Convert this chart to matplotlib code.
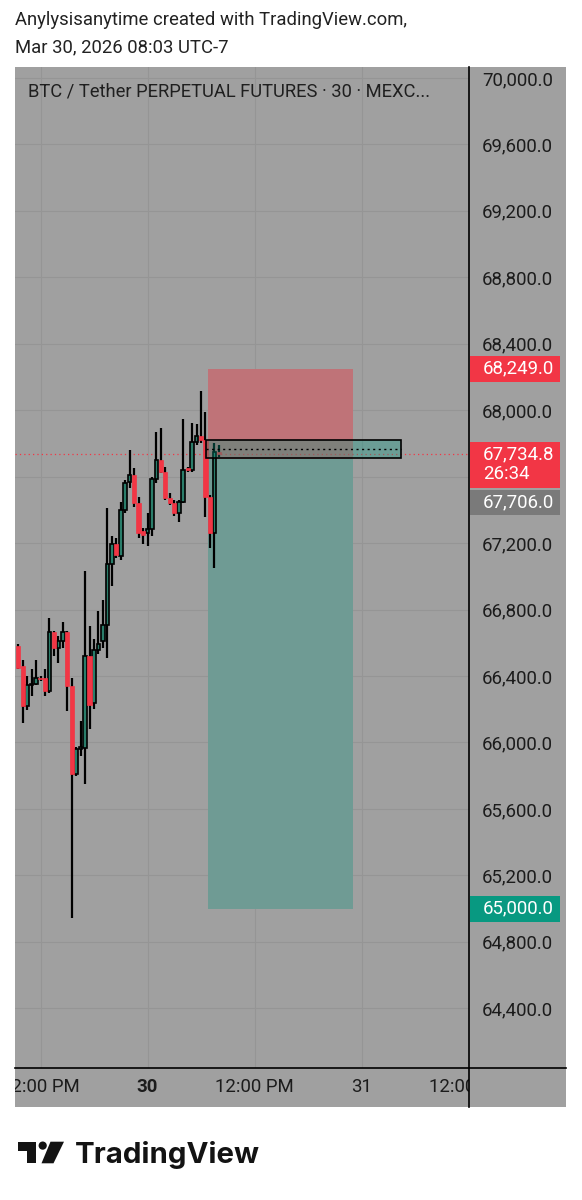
import numpy as np
import matplotlib
matplotlib.use("Agg")
import matplotlib.pyplot as plt
from matplotlib.patches import Rectangle, Polygon, Circle
from matplotlib.lines import Line2D
from matplotlib.transforms import Affine2D, blended_transform_factory

plt.rcParams['font.family'] = ['Roboto', 'DejaVu Sans']

# 30 min candles, time in hours relative to Mar 30 00:00
times = np.arange(-29, 17) * 0.5
opens = [66580, 66459, 66218, 66345, 66353, 66390, 66389, 66308, 66664, 66566,
         66610, 66664, 66339, 65807, 65963, 65967, 66523, 66238, 66554, 66610,
         66704, 67075, 67195, 67121, 67402, 67567, 67607, 67442, 67270, 67261,
         67285, 67583, 67703, 67630, 67472, 67442, 67382, 67450, 67649, 67637,
         67807, 67843, 67823, 67477, 67261, 67749]
highs = [66595, 66499, 66399, 66439, 66499, 66398, 66444, 66750, 66672, 66640,
         66724, 66672, 66389, 65970, 66127, 67031, 66700, 66620, 66790, 66860,
         67412, 67243, 67230, 67450, 67580, 67763, 67650, 67480, 67290, 67382,
         67600, 67868, 67894, 67660, 67500, 67460, 67460, 67944, 67660, 67924,
         67914, 68114, 67990, 67490, 67800, 67790]
lows = [66440, 66118, 66198, 66278, 66345, 66372, 66278, 66300, 66520, 66479,
        66566, 66188, 64944, 65800, 65916, 65750, 66078, 66200, 66530, 66566,
        66509, 66940, 67110, 67100, 67380, 67530, 67420, 67230, 67192, 67180,
        67240, 67560, 67620, 67460, 67430, 67362, 67329, 67440, 67625, 67630,
        67790, 67800, 67360, 67171, 67047, 67720]
closes = [66449, 66218, 66345, 66353, 66389, 66380, 66308, 66664, 66566, 66610,
          66664, 66339, 65807, 65963, 65975, 66523, 66228, 66554, 66594, 66704,
          67075, 67195, 67131, 67402, 67562, 67607, 67442, 67261, 67250, 67285,
          67583, 67703, 67630, 67472, 67442, 67382, 67450, 67637, 67637, 67807,
          67843, 67820, 67477, 67261, 67749, 67735]

price_ticks = np.arange(64400, 70001, 400)
hidden_tick = 67600
time_ticks = [-12, 0, 12, 24, 36]
time_labels = ["12:00 PM", "30", "12:00 PM", "31", "12:00 PM"]

last_price = 67734.8
countdown = "26:34"
entry_price = 67706.0
stop_price = 68249.0
target_price = 65000.0
zone_top, zone_mid, zone_bottom = 67823, 67769, 67713
pos_start, pos_end = 6.75, 23.0
zone_start, zone_end = 6.56, 28.4

W, H = 582, 1200
BG = '#a0a0a0'
GRID = '#959595'
RED = '#f23645'
GREEN_BODY = '#2a7d6a'
TAG_GREEN = '#089981'
TAG_GRAY = '#7a7a7a'
TXT = '#1c1c1c'
FS = 13.4


def fx(x):
    return x / W


def fy(y):
    return 1 - y / H


fig = plt.figure(figsize=(W / 100, H / 100), dpi=100)
fig.patch.set_facecolor('white')
px = Affine2D().scale(1 / W, -1 / H).translate(0, 1) + fig.transFigure

# chart panel background
fig.add_artist(Rectangle((15, 67), 551, 1040, transform=px, facecolor=BG, edgecolor='none', zorder=0))

ax = fig.add_axes([fx(15), fy(1068), (469 - 15) / W, (1068 - 67) / H])
ax.set_facecolor(BG)
for s in ax.spines.values():
    s.set_visible(False)
ax.set_xlim(-14.86, 36.05)
ax.set_ylim(64040, 70066)

ax.set_xticks(time_ticks)
ax.set_yticks(price_ticks)
ax.set_yticklabels(["" if v == hidden_tick else f"{v:,.1f}" for v in price_ticks])
ax.yaxis.tick_right()
ax.tick_params(axis='y', length=0, pad=9.5, labelsize=FS, labelcolor=TXT)
ax.tick_params(axis='x', length=0, labelbottom=False)
ax.grid(True, color=GRID, lw=0.8)
ax.set_axisbelow(True)

# short position tool
ax.add_patch(Rectangle((pos_start, entry_price), pos_end - pos_start, stop_price - entry_price,
                       facecolor='#bf7378', edgecolor='none', zorder=1.5))
ax.add_patch(Rectangle((pos_start, target_price), pos_end - pos_start, entry_price - target_price,
                       facecolor='#6f9b94', edgecolor='none', zorder=1.5))

ax.axhline(last_price, color=RED, lw=0.9, ls=(0, (1, 2.5)), zorder=2)

# candles
o = np.array(opens, float)
c = np.array(closes, float)
up = c >= o
bottom = np.minimum(o, c)
height = np.maximum(np.abs(c - o), 8)
ax.vlines(times, lows, highs, color='black', lw=1.6, zorder=3)
ax.bar(times[up], height[up], 0.40, bottom[up], color=GREEN_BODY, edgecolor='black', lw=1.2, zorder=4)
ax.bar(times[~up], height[~up], 0.48, bottom[~up], color=RED, edgecolor=RED, lw=0.5, zorder=4)

# zone box
ax.add_patch(Rectangle((zone_start, zone_bottom), zone_end - zone_start, zone_top - zone_bottom,
                       facecolor=TAG_GREEN, alpha=0.35, edgecolor='none', zorder=5))
ax.add_patch(Rectangle((zone_start, zone_bottom), zone_end - zone_start, zone_top - zone_bottom,
                       facecolor='none', edgecolor='black', lw=1.2, zorder=5.5))
ax.hlines(zone_mid, zone_start, zone_end, colors='black', lw=1, linestyles=(0, (1.5, 2.5)), zorder=6)

# axis lines
fig.add_artist(Line2D([469, 469], [67, 1107], transform=px, color='black', lw=1.2))
fig.add_artist(Line2D([15, 566], [1068, 1068], transform=px, color='black', lw=1.2))

# price tags on the scale
ppu = (1068 - 67) / (70066 - 64040)
tag_tr = blended_transform_factory(px, ax.transData)


def tag(top, bot, color):
    fig.add_artist(Rectangle((470, bot), 90, top - bot, transform=tag_tr,
                             facecolor=color, edgecolor='none', zorder=10))


def tag_text(y, s):
    fig.text(483, y, s, transform=tag_tr, color='white', fontsize=FS,
             va='center', ha='left', zorder=11)


tag(stop_price + 13 / ppu, stop_price - 13 / ppu, RED)
tag_text(stop_price, f"{stop_price:,.1f}")

last_top = last_price + 12.6 / ppu
last_bot = last_price - 34 / ppu
tag(last_top, last_bot, RED)
tag_text(last_price, f"{last_price:,.1f}")
tag_text(last_price - 20 / ppu, countdown)

tag(last_bot - 2 / ppu, last_bot - 26.5 / ppu, TAG_GRAY)
tag_text(last_bot - 14.2 / ppu, f"{entry_price:,.1f}")

tag(target_price + 13 / ppu, target_price - 13 / ppu, TAG_GREEN)
tag_text(target_price, f"{target_price:,.1f}")

# time scale
tax = fig.add_axes([fx(15), fy(1107), (469 - 15) / W, (1107 - 1068) / H])
tax.set_xlim(ax.get_xlim())
tax.set_ylim(0, 1)
tax.axis('off')
for t, lab in zip(time_ticks, time_labels):
    tax.text(t, 0.5, lab, ha='center', va='center', fontsize=FS, color=TXT, clip_on=True,
             fontweight='bold' if lab == "30" else 'normal')

# header and title
fig.text(fx(15), fy(20), "Anylysisanytime created with TradingView.com,", fontsize=13.3,
         color='#222222', va='center')
fig.text(fx(15), fy(47), "Mar 30, 2026 08:03 UTC-7", fontsize=13.3, color='#222222', va='center')
fig.text(fx(28), fy(91), "BTC / Tether PERPETUAL FUTURES · 30 · MEXC...", fontsize=13.2,
         color='#1f1f1f', va='center')

# logo
fig.add_artist(Rectangle((18.3, 1141.7), 17.7, 9, transform=px, facecolor='#131313', edgecolor='none'))
fig.add_artist(Rectangle((26.7, 1141.7), 9.3, 21.6, transform=px, facecolor='#131313', edgecolor='none'))
fig.add_artist(Circle((42.7, 1145.6), 4.1, transform=px, facecolor='#131313', edgecolor='none'))
fig.add_artist(Polygon([(50.5, 1141.7), (64, 1141.7), (53.5, 1163.3), (41.5, 1163.3)], closed=True,
                       transform=px, facecolor='#131313', edgecolor='none'))
fig.text(fx(75), fy(1163), "TradingView", fontsize=21.2, fontweight='bold', color='#131313',
         va='baseline', family=['Inter', 'DejaVu Sans'])

fig.savefig("out.png", dpi=100)
